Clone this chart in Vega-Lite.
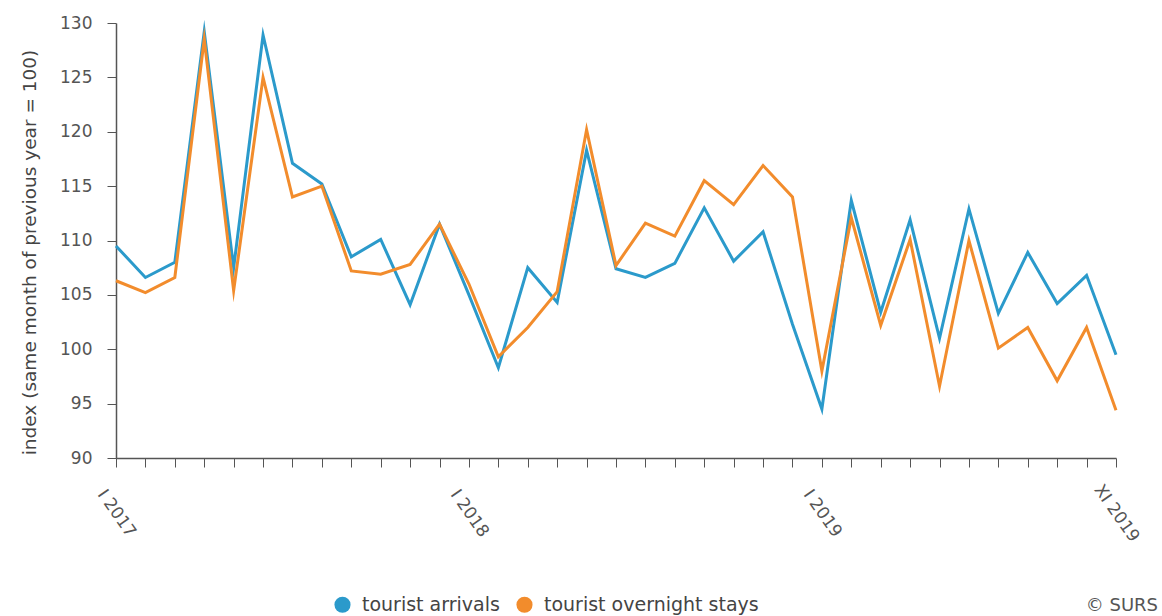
{
  "$schema": "https://vega.github.io/schema/vega-lite/v6.json",
  "width": 1000,
  "height": 435,
  "autosize": {"type": "none"},
  "padding": {"left": 116, "top": 23, "right": 46, "bottom": 158},
  "background": "white",
  "config": {
    "view": {"stroke": null},
    "font": "DejaVu Sans",
    "axis": {"grid": false, "domainColor": "#555555", "tickColor": "#555555", "labelColor": "#555555", "titleColor": "#444444", "labelFont": "DejaVu Sans", "titleFont": "DejaVu Sans", "labelFontSize": 17, "titleFontSize": 18.5, "titleFontWeight": "normal", "tickSize": 9, "domainWidth": 1.5, "tickWidth": 1}
  },
  "title": {"text": "© SURS", "orient": "bottom", "anchor": "end", "frame": "group", "align": "right", "dx": 42, "dy": -18, "offset": 0, "baseline": "top", "fontSize": 18, "fontWeight": "normal", "color": "#555555", "font": "DejaVu Sans"},
  "data": {
    "values": [
      {"month": "I 2017", "series": "tourist arrivals", "index": 109.5},
      {"month": "II 2017", "series": "tourist arrivals", "index": 106.6},
      {"month": "III 2017", "series": "tourist arrivals", "index": 108.0},
      {"month": "IV 2017", "series": "tourist arrivals", "index": 129.2},
      {"month": "V 2017", "series": "tourist arrivals", "index": 107.5},
      {"month": "VI 2017", "series": "tourist arrivals", "index": 128.9},
      {"month": "VII 2017", "series": "tourist arrivals", "index": 117.1},
      {"month": "VIII 2017", "series": "tourist arrivals", "index": 115.2},
      {"month": "IX 2017", "series": "tourist arrivals", "index": 108.5},
      {"month": "X 2017", "series": "tourist arrivals", "index": 110.1},
      {"month": "XI 2017", "series": "tourist arrivals", "index": 104.1},
      {"month": "XII 2017", "series": "tourist arrivals", "index": 111.5},
      {"month": "I 2018", "series": "tourist arrivals", "index": 105.0},
      {"month": "II 2018", "series": "tourist arrivals", "index": 98.3},
      {"month": "III 2018", "series": "tourist arrivals", "index": 107.5},
      {"month": "IV 2018", "series": "tourist arrivals", "index": 104.3},
      {"month": "V 2018", "series": "tourist arrivals", "index": 118.3},
      {"month": "VI 2018", "series": "tourist arrivals", "index": 107.4},
      {"month": "VII 2018", "series": "tourist arrivals", "index": 106.6},
      {"month": "VIII 2018", "series": "tourist arrivals", "index": 107.9},
      {"month": "IX 2018", "series": "tourist arrivals", "index": 113.0},
      {"month": "X 2018", "series": "tourist arrivals", "index": 108.1},
      {"month": "XI 2018", "series": "tourist arrivals", "index": 110.8},
      {"month": "XII 2018", "series": "tourist arrivals", "index": 102.3},
      {"month": "I 2019", "series": "tourist arrivals", "index": 94.5},
      {"month": "II 2019", "series": "tourist arrivals", "index": 113.7},
      {"month": "III 2019", "series": "tourist arrivals", "index": 103.4},
      {"month": "IV 2019", "series": "tourist arrivals", "index": 111.9},
      {"month": "V 2019", "series": "tourist arrivals", "index": 101.0},
      {"month": "VI 2019", "series": "tourist arrivals", "index": 112.9},
      {"month": "VII 2019", "series": "tourist arrivals", "index": 103.3},
      {"month": "VIII 2019", "series": "tourist arrivals", "index": 108.9},
      {"month": "IX 2019", "series": "tourist arrivals", "index": 104.2},
      {"month": "X 2019", "series": "tourist arrivals", "index": 106.8},
      {"month": "XI 2019", "series": "tourist arrivals", "index": 99.5},
      {"month": "I 2017", "series": "tourist overnight stays", "index": 106.3},
      {"month": "II 2017", "series": "tourist overnight stays", "index": 105.2},
      {"month": "III 2017", "series": "tourist overnight stays", "index": 106.6},
      {"month": "IV 2017", "series": "tourist overnight stays", "index": 128.5},
      {"month": "V 2017", "series": "tourist overnight stays", "index": 105.4},
      {"month": "VI 2017", "series": "tourist overnight stays", "index": 125.0},
      {"month": "VII 2017", "series": "tourist overnight stays", "index": 114.0},
      {"month": "VIII 2017", "series": "tourist overnight stays", "index": 115.0},
      {"month": "IX 2017", "series": "tourist overnight stays", "index": 107.2},
      {"month": "X 2017", "series": "tourist overnight stays", "index": 106.9},
      {"month": "XI 2017", "series": "tourist overnight stays", "index": 107.8},
      {"month": "XII 2017", "series": "tourist overnight stays", "index": 111.5},
      {"month": "I 2018", "series": "tourist overnight stays", "index": 106.0},
      {"month": "II 2018", "series": "tourist overnight stays", "index": 99.3},
      {"month": "III 2018", "series": "tourist overnight stays", "index": 102.0},
      {"month": "IV 2018", "series": "tourist overnight stays", "index": 105.3},
      {"month": "V 2018", "series": "tourist overnight stays", "index": 120.2},
      {"month": "VI 2018", "series": "tourist overnight stays", "index": 107.7},
      {"month": "VII 2018", "series": "tourist overnight stays", "index": 111.6},
      {"month": "VIII 2018", "series": "tourist overnight stays", "index": 110.4},
      {"month": "IX 2018", "series": "tourist overnight stays", "index": 115.5},
      {"month": "X 2018", "series": "tourist overnight stays", "index": 113.3},
      {"month": "XI 2018", "series": "tourist overnight stays", "index": 116.9},
      {"month": "XII 2018", "series": "tourist overnight stays", "index": 114.0},
      {"month": "I 2019", "series": "tourist overnight stays", "index": 98.0},
      {"month": "II 2019", "series": "tourist overnight stays", "index": 112.1},
      {"month": "III 2019", "series": "tourist overnight stays", "index": 102.2},
      {"month": "IV 2019", "series": "tourist overnight stays", "index": 110.1},
      {"month": "V 2019", "series": "tourist overnight stays", "index": 96.6},
      {"month": "VI 2019", "series": "tourist overnight stays", "index": 110.0},
      {"month": "VII 2019", "series": "tourist overnight stays", "index": 100.1},
      {"month": "VIII 2019", "series": "tourist overnight stays", "index": 102.0},
      {"month": "IX 2019", "series": "tourist overnight stays", "index": 97.1},
      {"month": "X 2019", "series": "tourist overnight stays", "index": 102.0},
      {"month": "XI 2019", "series": "tourist overnight stays", "index": 94.4}
    ]
  },
  "mark": {"type": "line", "strokeWidth": 3, "strokeJoin": "miter", "strokeMiterLimit": 20},
  "encoding": {
    "x": {
      "field": "month",
      "type": "ordinal",
      "sort": null,
      "scale": {"type": "point", "padding": 0},
      "axis": {
        "title": null,
        "labelAngle": 55,
        "labelAlign": "center",
        "labelBaseline": "middle",
        "labelPadding": 46,
        "labelOverlap": false,
        "labelExpr": "indexof(['I 2017','I 2018','I 2019','XI 2019'], datum.label) >= 0 ? datum.label : ''"
      }
    },
    "y": {
      "field": "index",
      "type": "quantitative",
      "scale": {"domain": [90, 130], "nice": false, "zero": false},
      "axis": {
        "title": "index (same month of previous year = 100)",
        "values": [90, 95, 100, 105, 110, 115, 120, 125, 130],
        "labelPadding": 15,
        "titlePadding": 20,
        "titleY": 229
      }
    },
    "color": {
      "field": "series",
      "type": "nominal",
      "scale": {"domain": ["tourist arrivals", "tourist overnight stays"], "range": ["#2B9ACB", "#F28C2C"]},
      "legend": {
        "title": null,
        "orient": "none",
        "direction": "horizontal",
        "legendX": 217,
        "legendY": 572,
        "symbolType": "circle",
        "symbolSize": 260,
        "symbolStrokeWidth": 0,
        "labelFontSize": 19,
        "labelLimit": 400,
        "labelColor": "#444444",
        "labelFont": "DejaVu Sans",
        "labelOffset": 10,
        "columnPadding": 15,
        "padding": 0,
        "encode": {
          "symbols": {
            "update": {
              "fill": {"scale": "color", "field": "value"},
              "fillOpacity": {"value": 1},
              "strokeWidth": {"value": 0}
            }
          }
        }
      }
    }
  }
}
